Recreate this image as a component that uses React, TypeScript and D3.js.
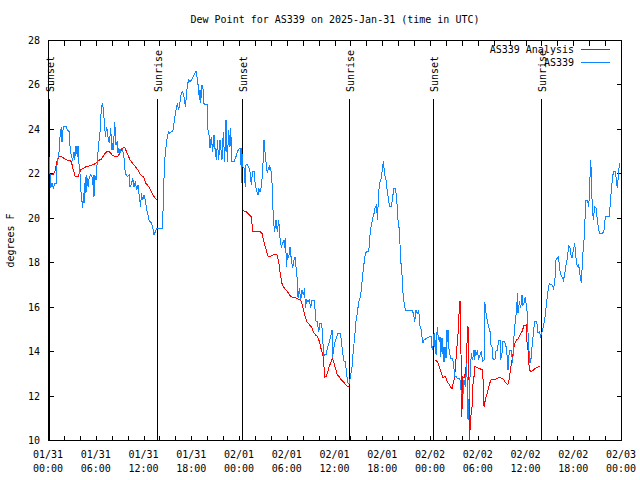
import React from "react";
import * as d3 from "d3";

const TITLE = "Dew Point for AS339 on 2025-Jan-31 (time in UTC)";
const Y_LABEL = "degrees F";
const SERIES_NAMES = ["AS339 Analysis", "AS339"];
const SERIES_COLORS = ["#ff0000", "#0f87ff"];

const Y_TICKS = [10, 12, 14, 16, 18, 20, 22, 24, 26, 28];
const X_LABEL_HOURS = [0, 6, 12, 18, 24, 30, 36, 42, 48, 54, 60, 66, 72];
const X_LABEL_DATES = ["01/31", "01/31", "01/31", "01/31", "02/01", "02/01", "02/01", "02/01", "02/02", "02/02", "02/02", "02/02", "02/03"];
const X_LABEL_TIMES = ["00:00", "06:00", "12:00", "18:00", "00:00", "06:00", "12:00", "18:00", "00:00", "06:00", "12:00", "18:00", "00:00"];

const SUN_HOURS = [0.17, 13.74, 24.33, 37.86, 48.36, 61.92];
const SUN_LABELS = ["Sunset", "Sunrise", "Sunset", "Sunrise", "Sunset", "Sunrise"];

// hours since 2025-01-31 00:00 UTC, dew point F
const OBS: [number, number][] = [
  [0, 23.2], [0.17, 22.6], [0.34, 21.33], [0.5, 21.55], [0.67, 21.33], [0.84, 21.55], [1.01, 21.55], [1.17, 22.6],
  [1.34, 22.75], [1.51, 23.65], [1.68, 24.1], [1.76, 23.43], [1.84, 23.88], [2.01, 24.13], [2.26, 24.13], [2.43, 23.95],
  [2.68, 23.88], [2.76, 23.23], [2.93, 22.75], [3.1, 22.6], [3.27, 22.98], [3.35, 22.6], [3.52, 23.23], [3.69, 22.75],
  [3.77, 23.23], [3.85, 22.6], [4.02, 22.0], [4.1, 21.33], [4.27, 20.73], [4.36, 20.43], [4.44, 21.1], [4.52, 20.65],
  [4.69, 21.85], [4.77, 21.1], [4.86, 21.93], [5.03, 21.4], [5.19, 21.85], [5.36, 21.93], [5.53, 21.85], [5.61, 21.48],
  [5.7, 21.93], [5.78, 20.95], [5.86, 21.93], [6.03, 21.7], [6.2, 22.6], [6.37, 23.35], [6.53, 23.8], [6.7, 24.93],
  [6.87, 25.18], [6.95, 24.85], [7.12, 24.18], [7.2, 23.65], [7.37, 24.1], [7.54, 23.65], [7.71, 23.35], [7.87, 24.03],
  [8.04, 23.05], [8.13, 23.35], [8.21, 23.05], [8.38, 24.33], [8.54, 23.28], [8.71, 23.43], [8.8, 22.9], [8.88, 23.13],
  [9.05, 22.9], [9.21, 23.13], [9.38, 23.05], [9.55, 22.68], [9.72, 22.0], [9.97, 21.85], [10.22, 21.93], [10.3, 21.4],
  [10.47, 21.48], [10.64, 21.78], [10.81, 21.4], [10.97, 21.63], [11.14, 21.25], [11.31, 21.48], [11.48, 20.95], [11.64, 20.5],
  [11.73, 21.1], [11.9, 20.8], [12.06, 21.03], [12.23, 20.8], [12.4, 20.35], [12.57, 20.13], [12.73, 19.83], [12.9, 19.83],
  [13.15, 19.6], [13.32, 19.23], [13.49, 19.38], [13.65, 19.53], [14.41, 19.53], [14.45, 20.28], [14.58, 21.85], [14.66, 22.6],
  [14.83, 23.2], [14.99, 23.65], [15.16, 23.88], [15.33, 23.8], [15.5, 23.88], [15.66, 23.88], [15.75, 24.03], [15.92, 24.48],
  [16.08, 24.85], [16.25, 25.15], [16.42, 24.85], [16.59, 25.23], [16.75, 25.6], [16.92, 25.68], [17.09, 25.45], [17.26, 25.0],
  [17.34, 25.3], [17.51, 25.98], [17.68, 26.2], [17.84, 26.13], [18.01, 26.2], [18.18, 26.28], [18.35, 26.43], [18.6, 26.58],
  [18.76, 26.28], [18.93, 25.75], [19.02, 25.3], [19.1, 25.75], [19.18, 25.15], [19.35, 25.98], [19.52, 25.75], [19.6, 25.15],
  [19.77, 25.08], [20.02, 25.08], [20.1, 23.95], [20.27, 23.65], [20.36, 23.13], [20.52, 23.65], [20.69, 22.98], [20.86, 23.73],
  [21.03, 22.9], [21.19, 22.6], [21.28, 23.5], [21.45, 22.6], [21.61, 23.5], [21.7, 23.2], [21.86, 22.6], [22.03, 23.88],
  [22.2, 22.53], [22.37, 24.4], [22.45, 23.5], [22.53, 22.53], [22.7, 23.95], [22.87, 23.2], [22.95, 24.03], [23.12, 22.53],
  [23.37, 22.53], [23.62, 22.75], [23.79, 22.98], [24.04, 23.13], [24.21, 23.13], [24.3, 21.55], [24.34, 23.13], [24.46, 22.3],
  [24.63, 22.23], [24.71, 21.78], [24.8, 21.4], [24.88, 22.38], [25.05, 22.38], [25.22, 22.3], [25.38, 22.08], [25.55, 21.48],
  [25.64, 21.85], [25.72, 22.08], [25.89, 22.08], [26.05, 21.48], [26.22, 21.18], [26.39, 21.03], [26.47, 21.33], [26.64, 21.18],
  [26.81, 21.4], [26.98, 22.15], [27.14, 23.5], [27.23, 23.2], [27.31, 22.68], [27.39, 22.53], [27.56, 22.0], [27.65, 22.15],
  [27.81, 22.3], [27.9, 22.15], [27.98, 22.3], [28.15, 21.55], [28.23, 20.8], [28.32, 19.9], [28.48, 19.38], [28.65, 19.9],
  [28.82, 19.38], [28.99, 19.9], [29.15, 19.08], [29.32, 18.7], [29.49, 18.85], [29.66, 19.0], [29.74, 18.63], [29.82, 19.08],
  [29.99, 17.8], [30.08, 18.4], [30.24, 18.18], [30.41, 18.7], [30.58, 18.1], [30.75, 17.73], [30.91, 18.1], [31.08, 18.25],
  [31.16, 17.8], [31.33, 17.2], [31.42, 16.38], [31.58, 16.83], [31.75, 16.3], [31.92, 16.75], [32.09, 16.53], [32.25, 16.83],
  [32.34, 15.93], [32.5, 16.3], [32.67, 16.23], [32.84, 16.3], [33.01, 15.93], [33.17, 16.3], [33.43, 16.3], [33.59, 15.78],
  [33.68, 15.33], [33.84, 15.33], [34.01, 14.88], [34.18, 15.25], [34.35, 15.25], [34.52, 14.8], [34.6, 13.75], [34.77, 13.83],
  [34.93, 13.83], [35.1, 14.13], [35.35, 14.43], [35.52, 14.65], [35.69, 14.95], [35.77, 13.68], [35.86, 14.05], [36.02, 14.35],
  [36.27, 14.65], [36.44, 14.8], [36.69, 14.8], [36.86, 14.5], [37.03, 13.9], [37.2, 13.53], [37.36, 13.53], [37.53, 12.93],
  [37.7, 12.55], [37.87, 12.55], [38.03, 12.93], [38.2, 13.3], [38.37, 14.05], [38.54, 14.65], [38.7, 15.33], [38.87, 15.7],
  [39.04, 16.23], [39.21, 16.38], [39.37, 16.75], [39.54, 17.43], [39.71, 17.95], [39.88, 18.4], [40.04, 18.48], [40.3, 18.48],
  [40.46, 19.23], [40.63, 19.68], [40.8, 19.98], [40.97, 20.2], [41.13, 20.5], [41.3, 20.58], [41.38, 19.9], [41.47, 20.5],
  [41.55, 21.18], [41.72, 21.63], [41.89, 21.78], [42.05, 22.3], [42.14, 22.53], [42.31, 21.93], [42.47, 21.7], [42.64, 21.18],
  [42.81, 20.8], [42.89, 20.5], [43.14, 20.5], [43.31, 20.95], [43.48, 21.33], [43.65, 21.33], [43.81, 20.88], [43.98, 19.9],
  [44.15, 19.45], [44.32, 18.1], [44.48, 17.43], [44.65, 16.38], [44.9, 15.85], [45.24, 15.85], [45.74, 15.85], [45.91, 15.7],
  [46.08, 15.33], [46.24, 15.85], [46.41, 15.7], [46.58, 15.85], [46.75, 15.1], [46.91, 14.95], [47.08, 14.35], [47.25, 14.5],
  [47.58, 14.58], [47.92, 14.65], [48.17, 14.65], [48.25, 14.13], [48.34, 14.05], [48.42, 14.43], [48.51, 14.8], [48.59, 14.2],
  [48.67, 14.5], [48.76, 13.83], [48.84, 14.58], [48.92, 15.1], [49.01, 14.73], [49.18, 14.43], [49.26, 14.65], [49.34, 13.75],
  [49.51, 14.58], [49.59, 14.2], [49.68, 13.53], [49.76, 14.2], [49.85, 13.53], [49.93, 14.2], [50.01, 13.68], [50.1, 14.95],
  [50.18, 14.43], [50.26, 14.95], [50.35, 14.2], [50.43, 13.98], [50.6, 13.68], [50.77, 13.68], [50.93, 13.53], [51.1, 12.85],
  [51.27, 12.85], [51.44, 12.78], [51.61, 12.78], [51.77, 12.7], [51.94, 12.1], [52.19, 12.1], [52.27, 12.7], [52.44, 12.4],
  [52.61, 13.45], [52.69, 12.25], [52.78, 10.9], [52.86, 11.5], [52.95, 12.25], [53.03, 12.85], [53.11, 13.38], [53.2, 13.9],
  [53.36, 13.6], [53.53, 14.05], [53.62, 13.6], [53.7, 14.05], [53.78, 13.83], [53.95, 13.98], [54.12, 13.68], [54.29, 13.83],
  [54.45, 13.98], [54.62, 13.53], [54.79, 13.6], [54.87, 16.23], [55.04, 15.7], [55.21, 15.33], [55.37, 15.1], [55.54, 14.88],
  [55.63, 14.28], [55.79, 14.2], [55.88, 13.68], [56.05, 13.6], [56.21, 13.68], [56.3, 14.05], [56.46, 14.05], [56.63, 14.5],
  [56.8, 14.5], [56.88, 13.6], [57.05, 13.9], [57.13, 14.43], [57.3, 14.43], [57.47, 14.35], [57.64, 14.05], [57.8, 13.15],
  [57.97, 14.05], [58.22, 14.05], [58.39, 13.45], [58.56, 14.73], [58.73, 15.4], [58.89, 15.85], [58.98, 16.6], [59.06, 15.7],
  [59.23, 16.23], [59.4, 15.93], [59.56, 16.53], [59.65, 16.08], [59.81, 16.15], [59.98, 16.45], [60.07, 16.15], [60.23, 15.7],
  [60.32, 14.8], [60.4, 14.2], [60.57, 13.45], [60.74, 13.75], [60.82, 14.2], [60.99, 14.8], [61.15, 15.33], [61.41, 15.33],
  [61.57, 14.8], [61.74, 14.88], [61.91, 14.65], [62.08, 14.88], [62.24, 15.1], [62.41, 15.4], [62.66, 16.23], [62.91, 16.9],
  [62.99, 17.05], [63.16, 16.98], [63.33, 16.98], [63.5, 16.83], [63.67, 17.05], [63.83, 18.1], [64.0, 18.18], [64.17, 18.25],
  [64.25, 17.8], [64.42, 17.43], [64.59, 17.35], [64.76, 17.2], [64.92, 17.43], [65.09, 17.88], [65.26, 18.18], [65.43, 18.78],
  [65.59, 18.63], [65.76, 18.25], [65.84, 18.18], [66.01, 18.55], [66.18, 18.85], [66.35, 18.18], [66.51, 17.8], [66.68, 17.88],
  [66.85, 17.43], [67.02, 17.05], [67.18, 18.25], [67.35, 19.0], [67.52, 20.28], [67.6, 20.8], [67.77, 20.8], [67.94, 20.5],
  [68.02, 21.03], [68.19, 22.6], [68.27, 22.0], [68.36, 20.8], [68.52, 19.9], [68.69, 20.5], [68.86, 20.43], [69.03, 19.9],
  [69.19, 19.45], [69.36, 19.3], [69.7, 19.3], [69.87, 19.45], [70.03, 20.05], [70.28, 20.05], [70.54, 20.05], [70.7, 20.88],
  [70.87, 21.55], [71.04, 22.08], [71.29, 22.08], [71.46, 21.55], [71.54, 21.33], [71.71, 22.08], [71.79, 22.38], [71.88, 22.45],
];

const ANALYSIS_NIGHT1: [number, number][] = [
  [0.34, 21.93], [0.67, 21.93], [0.92, 22.15], [1.17, 22.6], [1.42, 22.75], [1.68, 22.75], [2.01, 22.68], [2.35, 22.6],
  [2.68, 22.6], [2.93, 22.53], [3.18, 22.15], [3.43, 21.85], [3.77, 21.85], [4.1, 22.15], [4.44, 22.23], [4.77, 22.3],
  [5.19, 22.33], [5.61, 22.38], [6.03, 22.45], [6.45, 22.6], [6.7, 22.63], [7.04, 22.83], [7.37, 22.98], [7.71, 22.98],
  [8.04, 22.83], [8.38, 22.75], [8.71, 22.75], [9.05, 22.9], [9.38, 23.13], [9.63, 23.17], [9.97, 22.9], [10.3, 22.6],
  [10.64, 22.45], [10.97, 22.3], [11.31, 22.15], [11.64, 21.93], [11.98, 21.85], [12.31, 21.55], [12.65, 21.4], [12.98, 21.18],
  [13.32, 20.95], [13.65, 20.8],
];

const ANALYSIS_NIGHT2: [number, number][] = [
  [24.46, 20.32], [24.88, 20.28], [25.22, 20.16], [25.55, 20.05], [25.72, 19.38], [26.14, 19.38], [26.64, 19.38], [26.89, 19.3],
  [27.06, 19.0], [27.23, 18.78], [27.48, 18.48], [27.65, 18.28], [27.98, 18.28], [28.32, 18.33], [28.74, 18.36], [28.99, 18.03],
  [29.15, 17.58], [29.4, 17.05], [29.57, 16.9], [29.91, 16.75], [30.24, 16.6], [30.49, 16.45], [30.91, 16.42], [31.33, 16.36],
  [31.58, 16.33], [31.83, 16.23], [32.0, 16.0], [32.25, 15.63], [32.5, 15.33], [32.76, 15.22], [33.09, 15.1], [33.34, 14.88],
  [33.59, 14.73], [33.84, 14.68], [34.1, 14.43], [34.35, 14.05], [34.6, 13.72], [34.77, 12.82], [34.93, 12.85], [35.1, 13.0],
  [35.27, 13.23], [35.52, 13.48], [35.69, 13.66], [35.86, 13.57], [36.11, 13.23], [36.36, 12.93], [36.61, 12.85], [36.86, 12.7],
  [37.11, 12.63], [37.36, 12.51], [37.61, 12.43], [37.87, 12.43],
];

const ANALYSIS_NIGHT3: [number, number][] = [
  [48.59, 13.6], [48.92, 13.53], [49.18, 13.3], [49.43, 13.0], [49.59, 12.82], [49.93, 12.85], [50.18, 12.63], [50.52, 12.43],
  [50.77, 12.28], [50.93, 12.58], [51.1, 12.85], [51.35, 14.05], [51.6, 15.1], [51.69, 16.23], [51.86, 16.23], [51.94, 11.05],
  [52.02, 11.35], [52.11, 12.85], [52.27, 12.78], [52.44, 13.0], [52.61, 13.6], [52.69, 15.1], [52.86, 15.03], [52.95, 10.0],
  [53.11, 10.98], [53.28, 11.5], [53.36, 12.4], [53.53, 12.85], [53.62, 13.3], [53.87, 13.27], [54.12, 13.23], [54.45, 13.18],
  [54.62, 13.15], [54.79, 11.5], [54.95, 11.8], [55.12, 12.03], [55.29, 12.25], [55.46, 12.48], [55.63, 12.7], [55.88, 12.73],
  [56.21, 12.73], [56.46, 12.78], [56.8, 12.81], [57.05, 12.78], [57.3, 12.7], [57.55, 12.55], [57.8, 12.5], [57.97, 12.78],
  [58.14, 13.23], [58.31, 13.6], [58.47, 13.98], [58.64, 14.35], [58.89, 14.5], [59.14, 14.58], [59.31, 14.73], [59.56, 14.88],
  [59.81, 15.15], [60.07, 15.18], [60.15, 14.5], [60.32, 14.05], [60.48, 13.15], [60.74, 13.08], [60.99, 13.15], [61.24, 13.23],
  [61.49, 13.27], [61.82, 13.33],
];

const ANALYSIS_SEGMENTS = [ANALYSIS_NIGHT1, ANALYSIS_NIGHT2, ANALYSIS_NIGHT3];

const W = 640;
const H = 480;
const M = { left: 48, right: 19, top: 40, bottom: 40 };
const FONT = "'DejaVu Sans Mono', 'Liberation Mono', monospace";
const FS = 10;
const TICK = 5;

export default function App() {
  const x = d3.scaleLinear().domain([0, 72]).range([M.left, W - M.right]);
  const y = d3.scaleLinear().domain([10, 28]).range([H - M.bottom, M.top]);
  const line = d3
    .line<[number, number]>()
    .x((d) => x(d[0]))
    .y((d) => y(d[1]));

  const px = (v: number) => Math.round(v) + 0.5;
  const left = px(x(0));
  const right = px(x(72));
  const top = px(y(28));
  const bottom = px(y(10));
  const minorHours = d3.range(0, 73, 2);

  return (
    <svg
      width={W}
      height={H}
      style={{ position: "fixed", left: 0, top: 0, background: "#fff" }}
      fontFamily={FONT}
      fontSize={FS}
    >
      <defs>
        <clipPath id="plot">
          <rect x={left} y={top - 1} width={right - left} height={bottom - top + 2} />
        </clipPath>
      </defs>
      <rect width={W} height={H} fill="#fff" />

      <text x={(left + right) / 2} y={23} textAnchor="middle">
        {TITLE}
      </text>

      {/* ticks */}
      <g stroke="#000" strokeWidth={1} shapeRendering="crispEdges">
        {Y_TICKS.map((t) => (
          <g key={"yt" + t}>
            <line x1={left} x2={left + TICK} y1={px(y(t))} y2={px(y(t))} />
            <line x1={right} x2={right - TICK} y1={px(y(t))} y2={px(y(t))} />
          </g>
        ))}
        {minorHours.map((h) => (
          <g key={"xt" + h}>
            <line x1={px(x(h))} x2={px(x(h))} y1={bottom} y2={bottom - TICK} />
            <line x1={px(x(h))} x2={px(x(h))} y1={top} y2={top + TICK} />
          </g>
        ))}
      </g>

      {/* y tick labels */}
      {Y_TICKS.map((t) => (
        <text key={"yl" + t} x={40} y={y(t) + 4} textAnchor="end">
          {t}
        </text>
      ))}

      {/* x tick labels */}
      {X_LABEL_HOURS.map((h, i) => (
        <g key={"xl" + h}>
          <text x={x(h)} y={458} textAnchor="middle">
            {X_LABEL_DATES[i]}
          </text>
          <text x={x(h)} y={472} textAnchor="middle">
            {X_LABEL_TIMES[i]}
          </text>
        </g>
      ))}

      <text transform={`translate(14,${(top + bottom) / 2}) rotate(-90)`} textAnchor="middle">
        {Y_LABEL}
      </text>

      {/* sun events */}
      {SUN_HOURS.map((h, i) => (
        <g key={"sun" + i}>
          <line
            x1={px(x(h))}
            x2={px(x(h))}
            y1={99}
            y2={bottom}
            stroke="#000"
            strokeWidth={1}
            shapeRendering="crispEdges"
          />
          <text transform={`translate(${x(h) + 5},92) rotate(-90)`} textAnchor="start">
            {SUN_LABELS[i]}
          </text>
        </g>
      ))}

      {/* data */}
      <g clipPath="url(#plot)" fill="none" strokeWidth={1} shapeRendering="crispEdges">
        {ANALYSIS_SEGMENTS.map((seg, i) => (
          <path key={"an" + i} d={line(seg) || ""} stroke={SERIES_COLORS[0]} />
        ))}
        <path d={line(OBS) || ""} stroke={SERIES_COLORS[1]} />
      </g>

      {/* legend */}
      {SERIES_NAMES.map((name, i) => (
        <g key={"lg" + i}>
          <text x={574} y={53 + i * 13} textAnchor="end">
            {name}
          </text>
          <line
            x1={581}
            x2={610}
            y1={49.5 + i * 13}
            y2={49.5 + i * 13}
            stroke={SERIES_COLORS[i]}
            strokeWidth={1}
            shapeRendering="crispEdges"
          />
        </g>
      ))}

      {/* frame */}
      <rect
        x={left}
        y={top}
        width={right - left}
        height={bottom - top}
        fill="none"
        stroke="#000"
        strokeWidth={1}
        shapeRendering="crispEdges"
      />
    </svg>
  );
}
